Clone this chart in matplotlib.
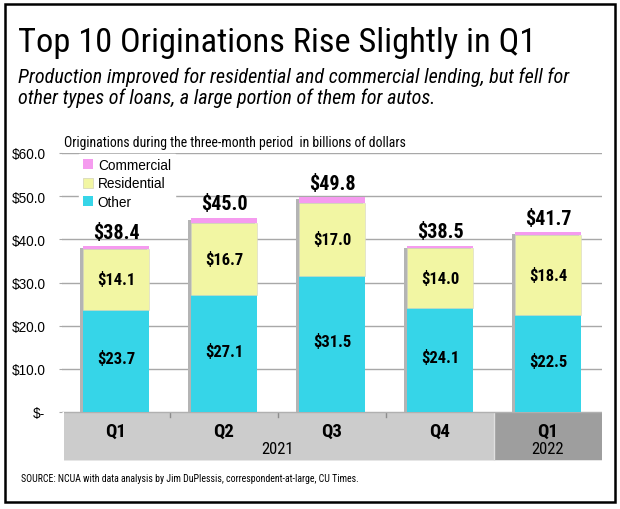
import matplotlib
matplotlib.use("Agg")
import matplotlib.pyplot as plt
from matplotlib import font_manager as fm
from matplotlib.patches import Rectangle, Patch
import numpy as np

# ---------------- data ----------------
quarters = ["Q1", "Q2", "Q3", "Q4", "Q1"]
years = ["2021", "2022"]
other = [23.7, 27.1, 31.5, 24.1, 22.5]
residential = [14.1, 16.7, 17.0, 14.0, 18.4]
commercial = [0.6, 1.2, 1.3, 0.4, 0.8]
totals = [38.4, 45.0, 49.8, 38.5, 41.7]
yticks = [0, 10, 20, 30, 40, 50, 60]
ytick_labels = ["$-", "$10.0", "$20.0", "$30.0", "$40.0", "$50.0", "$60.0"]
series_names = ["Other", "Residential", "Commercial"]

title = "Top 10 Originations Rise Slightly in Q1"
subtitle1 = "Production improved for residential and commercial lending, but fell for"
subtitle2 = "other types of loans, a large portion of them for autos."
axis_note = "Originations during the three-month period  in billions of dollars"
source = "SOURCE: NCUA with data analysis by Jim DuPlessis, correspondent-at-large, CU Times."

# ---------------- style ----------------
C_OTHER = "#36D5E8"
C_RES = "#F2F6A3"
C_COM = "#F59BEF"
C_BAND = "#CCCCCC"
C_BAND2 = "#9E9E9E"
C_GRID = "#A8A8A8"
C_SHADOW = "#B4B4B4"

names = {f.name for f in fm.fontManager.ttflist}
NARROW = "Liberation Sans"
for cand in ["Liberation Sans Narrow", "Arial Narrow", "Roboto Condensed", "Open Sans Condensed"]:
    if cand in names:
        NARROW = cand
        break
SANS = "Liberation Sans"

W, H = 620, 510
fig = plt.figure(figsize=(W / 100, H / 100), dpi=100)
fig.patch.set_facecolor("white")

def fx(px):
    return px / W

def fy(py):
    return 1 - py / H

ax_l, ax_r, ax_t, ax_b = 62, 602, 154, 413
ax = fig.add_axes([fx(ax_l), fy(ax_b), fx(ax_r - ax_l), (ax_b - ax_t) / H])
x = np.arange(len(quarters))
bw = 0.62

ax.set_xlim(-0.5, len(quarters) - 0.5)
ax.set_ylim(0, 60)
ax.set_yticks(yticks)
ax.set_yticklabels(ytick_labels, fontfamily=SANS, fontsize=9.8)
ax.tick_params(axis="y", length=2, color=C_GRID, pad=10)
ax.set_xticks([])
for s in ax.spines.values():
    s.set_visible(False)
ax.grid(axis="y", color=C_GRID, linewidth=1.0, zorder=0)
ax.set_axisbelow(True)

bot_res = np.array(other)
bot_com = bot_res + np.array(residential)
tops = bot_com + np.array(commercial)
# soft shadow on the left of each stack
ax.bar(x - 0.022, tops - 0.5, width=bw, color=C_SHADOW, zorder=1, linewidth=0)

ax.bar(x, other, width=bw, color=C_OTHER, zorder=2, linewidth=0)
ax.bar(x, residential, bottom=bot_res, width=bw, color=C_RES, zorder=2,
       edgecolor="#D6D6C4", linewidth=0.4)
ax.bar(x, commercial, bottom=bot_com, width=bw, color=C_COM, zorder=2, linewidth=0)

for i in range(len(x)):
    ax.text(x[i], other[i] / 2 + 0.6, f"${other[i]:.1f}", ha="center", va="center",
            fontfamily=NARROW, fontweight="bold", fontsize=12, zorder=3)
    ax.text(x[i], bot_res[i] + residential[i] / 2, f"${residential[i]:.1f}", ha="center",
            va="center", fontfamily=NARROW, fontweight="bold", fontsize=12, zorder=3)
    ax.annotate(f"${totals[i]:.1f}", (x[i], tops[i]), xytext=(0, 6), textcoords="offset points",
                ha="center", va="baseline", fontfamily=NARROW, fontweight="bold",
                fontsize=14.5, zorder=3)

handles = [Patch(facecolor=C_COM, edgecolor="none"),
           Patch(facecolor=C_RES, edgecolor="#C8C8B0", linewidth=0.4),
           Patch(facecolor=C_OTHER, edgecolor="none")]
leg = ax.legend(handles, [series_names[2], series_names[1], series_names[0]],
                loc="upper left", bbox_to_anchor=(0.031, 0.997), borderaxespad=0,
                frameon=True, fancybox=False, facecolor="white", edgecolor="white",
                framealpha=1, prop={"family": SANS, "size": 9.8},
                handlelength=0.75, handleheight=0.75, handletextpad=0.35,
                labelspacing=0.33, borderpad=0.3)
leg.set_zorder(5)

# category band
band = fig.add_axes([fx(ax_l + 2), fy(462), fx(ax_r - ax_l - 2), (462 - 413) / H])
band.set_xlim(-0.5 + 2 * 5 / 540, 4.5)
band.set_ylim(0, 1)
band.axis("off")
band.add_patch(Rectangle((-0.5, 0), 4.0, 1, facecolor=C_BAND, edgecolor="none"))
band.add_patch(Rectangle((3.5, 0), 1.0, 1, facecolor=C_BAND2, edgecolor="none"))
band.add_patch(Rectangle((-0.5, 0), 5.0, 0.03, facecolor="#E6E6E6", edgecolor="none"))
for b in [0.5, 1.5, 2.5]:
    band.plot([b, b], [1, 0.9], color="#8C8C8C", linewidth=1)
band.plot([3.5, 3.5], [0, 1], color="#E0E0E0", linewidth=1)
band.plot([-0.5, 4.5], [1, 1], color="#B0B0B0", linewidth=1)
for i, q in enumerate(quarters):
    band.text(x[i], 0.62, q, ha="center", va="center", fontfamily=NARROW,
              fontweight="bold", fontsize=13.5)
band.text(1.5, 0.25, years[0], ha="center", va="center", fontfamily=NARROW, fontsize=12)
band.text(4, 0.25, years[1], ha="center", va="center", fontfamily=NARROW, fontsize=12)

# texts
t_title = fig.text(fx(18), fy(52), title, ha="left", va="baseline", fontfamily=NARROW, fontsize=30)
t_s1 = fig.text(fx(18), fy(83), subtitle1, ha="left", va="baseline", fontfamily=NARROW,
                style="italic", fontsize=14)
t_s2 = fig.text(fx(18), fy(104), subtitle2, ha="left", va="baseline", fontfamily=NARROW,
                style="italic", fontsize=14)
t_note = fig.text(fx(64), fy(147), axis_note, ha="left", va="baseline", fontfamily=NARROW, fontsize=10)
t_src = fig.text(fx(21), fy(482), source, ha="left", va="baseline", fontfamily=NARROW, fontsize=9)

fig.canvas.draw()
r = fig.canvas.get_renderer()

def fit(t, width_px):
    w = t.get_window_extent(r).width
    t.set_fontsize(t.get_fontsize() * width_px / w)

fit(t_title, 517)
fit(t_s1, 554)
t_s2.set_fontsize(t_s1.get_fontsize())
fit(t_note, 343)
fit(t_src, 339)

# border
fig.add_artist(Rectangle((fx(5), fy(503)), fx(610), (503 - 5) / H, transform=fig.transFigure,
                         fill=False, edgecolor="black", linewidth=1.8))

fig.savefig("out.png", dpi=100, facecolor="white")
